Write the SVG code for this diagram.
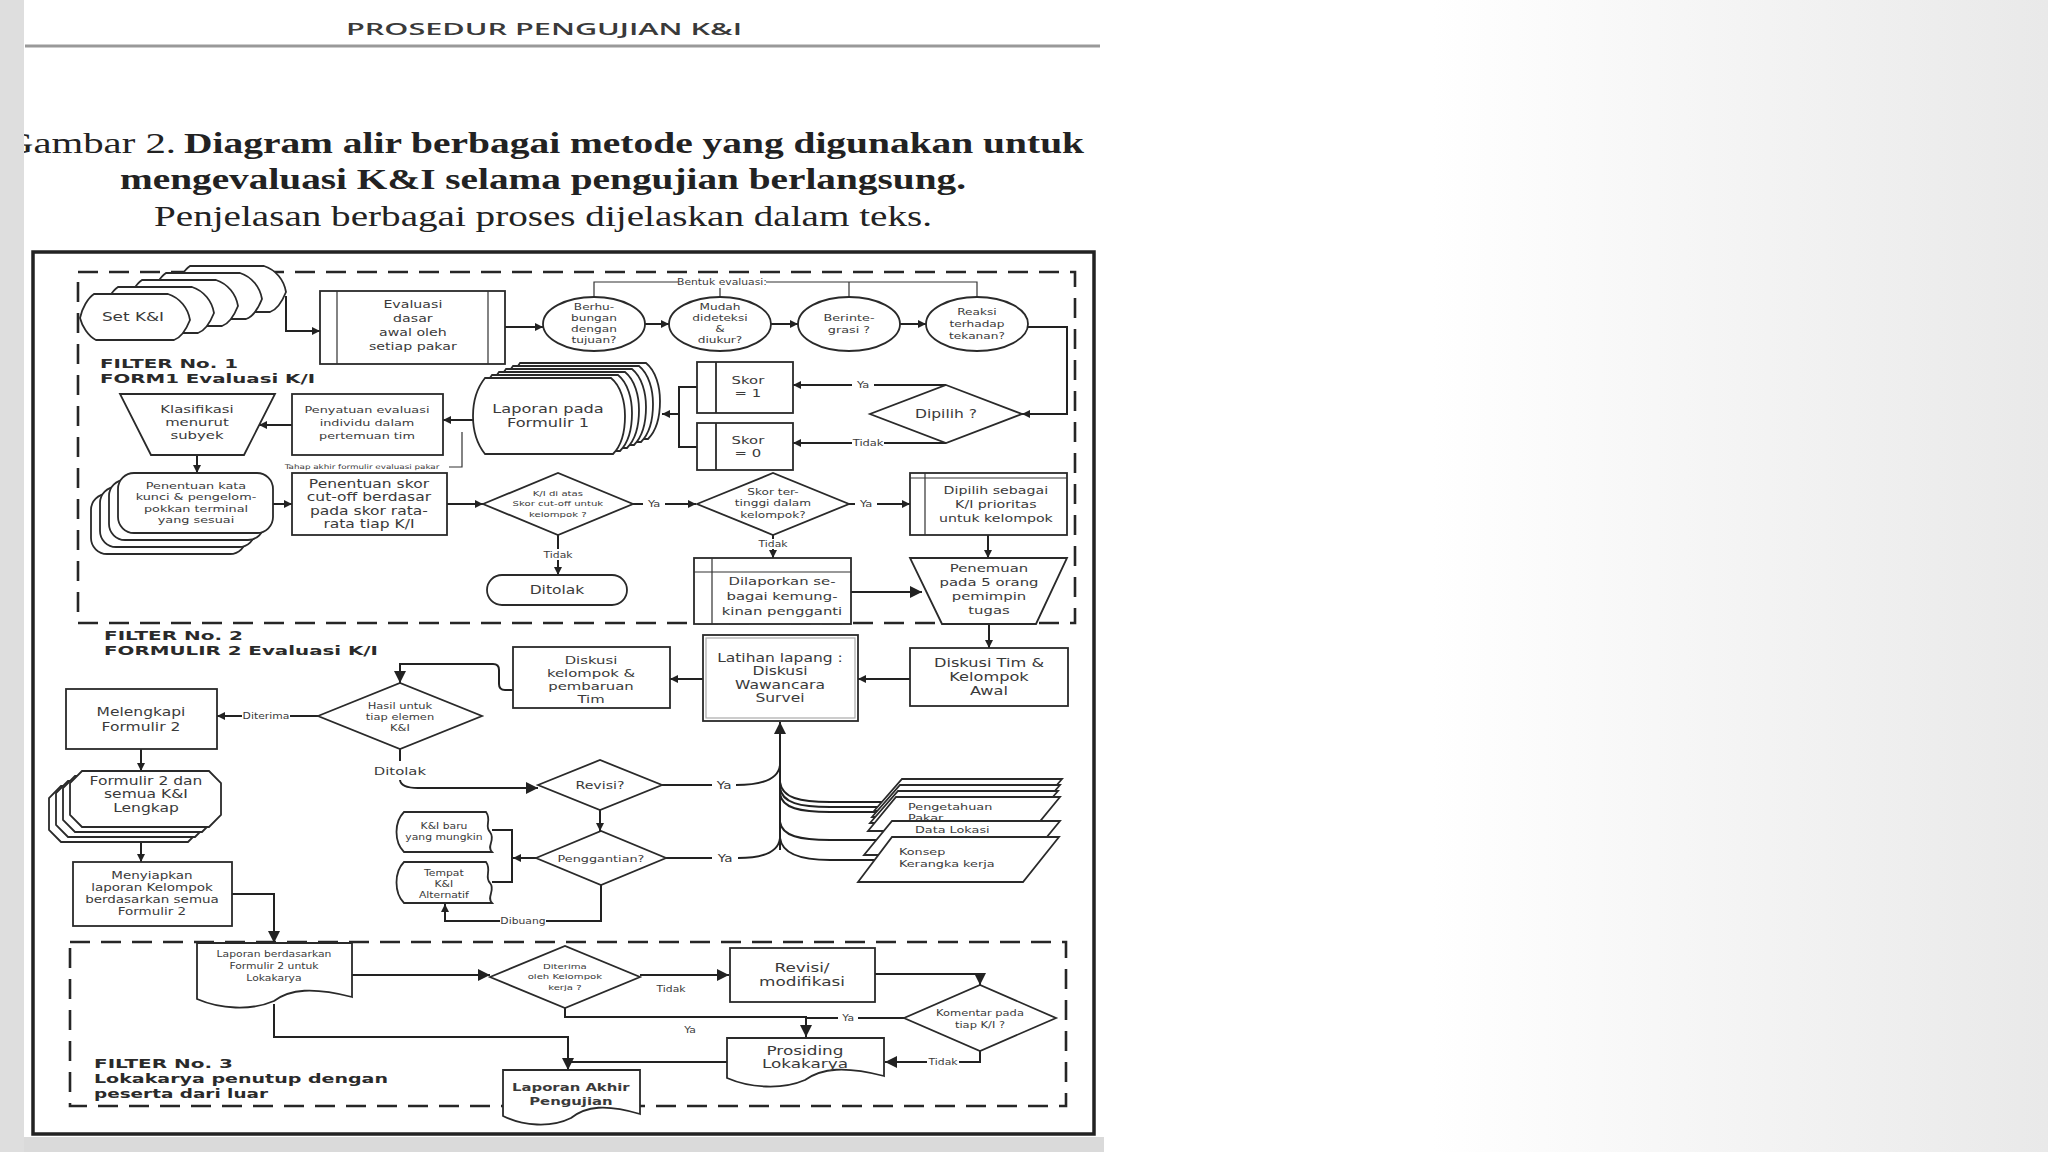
<svg xmlns="http://www.w3.org/2000/svg" width="2048" height="1152" viewBox="0 0 2048 1152">
<defs>
<linearGradient id="bgR" x1="0" y1="0" x2="1" y2="0">
<stop offset="0" stop-color="#ffffff"/><stop offset="0.35" stop-color="#ffffff"/><stop offset="1" stop-color="#e9e9e9"/>
</linearGradient>
<marker id="a" viewBox="0 0 10 10" refX="10" refY="5" markerWidth="9" markerHeight="8" markerUnits="userSpaceOnUse" orient="auto"><path d="M0,0L10,5L0,10z" fill="#222"/></marker>
<marker id="aL" viewBox="0 0 10 10" refX="10" refY="5" markerWidth="15" markerHeight="12" markerUnits="userSpaceOnUse" orient="auto"><path d="M0,0L10,5L0,10z" fill="#222"/></marker>
<path id="setShape" d="M14,0 H88 C100,4 108,14 110,26 C106,36 100,44 94,46 H16 C8,42 2,32 0,24 C2,14 8,4 14,0 Z"/>
<path id="lapShape" d="M12,0 H138 C148,8 152,24 152,38 C152,54 148,68 140,76 H12 C4,66 0,52 0,38 C0,24 4,10 12,0 Z"/>
<rect id="kataShape" width="155" height="60" rx="16"/>
<path id="chamf" d="M12,0 H139 L151,12 V44 L139,56 H12 L0,44 V12 Z"/>
</defs>
<style>
.nd{fill:#fff;stroke:#2a2a2a;stroke-width:1.8}
.ln{fill:none;stroke:#222;stroke-width:2}
.th{fill:none;stroke:#333;stroke-width:1.2}
.dash{fill:none;stroke:#262626;stroke-width:2.6;stroke-dasharray:20 11}
.tx{font-family:"DejaVu Sans","Liberation Sans",sans-serif;fill:#3a3a3a;text-anchor:middle;transform-box:fill-box;transform-origin:center;transform:scaleX(1.35)}
.tl{font-family:"DejaVu Sans","Liberation Sans",sans-serif;fill:#3a3a3a;text-anchor:start;transform-box:fill-box;transform-origin:left center;transform:scaleX(1.35)}
.fl{font-family:"DejaVu Sans","Liberation Sans",sans-serif;font-weight:bold;fill:#2a2a2a;font-size:13px}
.lb{fill:#fff}
.ttl{font-family:"Liberation Serif","Times New Roman",serif;fill:#222;font-size:29px}
</style>

<rect width="2048" height="1152" fill="#fff"/>
<rect x="1100" y="0" width="948" height="1152" fill="url(#bgR)"/>

<g id="header">
<text x="346" y="35" font-family="Open Sans, Liberation Sans, sans-serif" font-weight="600" font-size="17" fill="#3a3a3a" textLength="396" lengthAdjust="spacingAndGlyphs">PROSEDUR PENGUJIAN K&amp;I</text>
<line x1="25" y1="46" x2="1100" y2="46" stroke="#999" stroke-width="3"/>
<text class="ttl" x="4" y="153" textLength="172" lengthAdjust="spacingAndGlyphs">Gambar 2.</text>
<text class="ttl" x="184" y="153" font-weight="bold" textLength="900" lengthAdjust="spacingAndGlyphs">Diagram alir berbagai metode yang digunakan untuk</text>
<text class="ttl" x="120" y="189" font-weight="bold" textLength="846" lengthAdjust="spacingAndGlyphs">mengevaluasi K&amp;I selama pengujian berlangsung.</text>
<text class="ttl" x="154" y="226" textLength="778" lengthAdjust="spacingAndGlyphs">Penjelasan berbagai proses dijelaskan dalam teks.</text>
</g>

<rect x="33" y="252" width="1061" height="882" fill="#fff" stroke="#222" stroke-width="3.5"/>
<rect x="78" y="272" width="997" height="351" class="dash"/>
<rect x="70" y="942" width="996" height="164" class="dash"/>

<g id="filter-labels">
<text class="fl" x="100" y="368" textLength="138" lengthAdjust="spacingAndGlyphs">FILTER No. 1</text>
<text class="fl" x="100" y="383" textLength="215" lengthAdjust="spacingAndGlyphs">FORM1 Evaluasi K/I</text>
<text class="fl" x="104" y="640" textLength="139" lengthAdjust="spacingAndGlyphs">FILTER No. 2</text>
<text class="fl" x="104" y="655" textLength="274" lengthAdjust="spacingAndGlyphs">FORMULIR 2 Evaluasi K/I</text>
<text class="fl" x="94" y="1068" textLength="139" lengthAdjust="spacingAndGlyphs">FILTER No. 3</text>
<text class="fl" x="94" y="1083" textLength="294" lengthAdjust="spacingAndGlyphs">Lokakarya penutup dengan</text>
<text class="fl" x="94" y="1098" textLength="174" lengthAdjust="spacingAndGlyphs">peserta dari luar</text>
</g>

<g id="connectors">
<path class="ln" d="M286,296 V331 H320" marker-end="url(#a)"/>
<path class="ln" d="M505,327 H543" marker-end="url(#a)"/>
<path class="ln" d="M645,324 H669" marker-end="url(#a)"/>
<path class="ln" d="M771,324 H798" marker-end="url(#a)"/>
<path class="ln" d="M900,324 H926" marker-end="url(#a)"/>
<path class="ln" d="M1028,327 H1067 V414 H1022" marker-end="url(#a)"/>
<path class="th" d="M594,297 V282 H977 V297 M720,282 V297 M849,282 V297"/>
<rect class="lb" x="678" y="276" width="88" height="12"/>
<text class="tx" font-size="8" x="722" y="285">Bentuk evaluasi:</text>
<path class="ln" d="M946,385 H793" marker-end="url(#a)"/>
<rect class="lb" x="852" y="379" width="22" height="12"/>
<text class="tx" font-size="8.5" x="863" y="388">Ya</text>
<path class="ln" d="M946,443 H793" marker-end="url(#a)"/>
<rect class="lb" x="852" y="437" width="32" height="12"/>
<text class="tx" font-size="8.5" x="868" y="446">Tidak</text>
<path class="ln" d="M697,387 H679 V447 H697"/>
<path class="ln" d="M679,414 H662" marker-end="url(#a)"/>
<path class="ln" d="M473,420 H443" marker-end="url(#a)"/>
<path class="ln" d="M292,425 H259" marker-end="url(#a)"/>
<path class="th" d="M449,467 H462 V432"/>
<text class="tx" font-size="6.5" x="362" y="469">Tahap akhir formulir evaluasi pakar</text>
<path class="ln" d="M197,455 V473" marker-end="url(#a)"/>
<path class="ln" d="M273,504 H292" marker-end="url(#a)"/>
<path class="ln" d="M447,504 H483" marker-end="url(#a)"/>
<path class="ln" d="M633,504 H696" marker-end="url(#a)"/>
<rect class="lb" x="643" y="498" width="22" height="12"/>
<text class="tx" font-size="8.5" x="654" y="507">Ya</text>
<path class="ln" d="M849,504 H910" marker-end="url(#a)"/>
<rect class="lb" x="855" y="498" width="22" height="12"/>
<text class="tx" font-size="8.5" x="866" y="507">Ya</text>
<path class="ln" d="M558,535 V575" marker-end="url(#a)"/>
<rect class="lb" x="542" y="549" width="32" height="11"/>
<text class="tx" font-size="8" x="558" y="558">Tidak</text>
<path class="ln" d="M773,535 V558" marker-end="url(#a)"/>
<rect class="lb" x="757" y="539" width="32" height="10"/>
<text class="tx" font-size="8" x="773" y="547">Tidak</text>
<path class="ln" d="M988,535 V558" marker-end="url(#a)"/>
<path class="ln" d="M851,592 H922" marker-end="url(#aL)"/>
<path class="ln" d="M989,624 V648" marker-end="url(#a)"/>
<path class="ln" d="M910,679 H858" marker-end="url(#a)"/>
<path class="ln" d="M703,679 H670" marker-end="url(#a)"/>
<path class="ln" d="M513,690 H505 Q499,690 499,684 V670 Q499,664 493,664 H400 V683" marker-end="url(#aL)"/>
<path class="ln" d="M318,716 H217" marker-end="url(#a)"/>
<rect class="lb" x="242" y="710" width="48" height="12"/>
<text class="tx" font-size="8" x="266" y="719">Diterima</text>
<path class="ln" d="M141,749 V771" marker-end="url(#a)"/>
<path class="ln" d="M141,842 V862" marker-end="url(#a)"/>
<path class="ln" d="M232,894 H274 V943" marker-end="url(#aL)"/>
<path class="ln" d="M400,749 V761"/>
<text class="tx" font-size="11" x="400" y="775">Ditolak</text>
<path class="ln" d="M400,780 Q401,788 418,788 H538" marker-end="url(#aL)"/>
<path class="ln" d="M662,785 H712"/>
<text class="tx" font-size="10" x="724" y="789">Ya</text>
<path class="ln" d="M736,785 Q778,785 780,765"/>
<path class="ln" d="M780,850 V722" marker-end="url(#aL)"/>
<path class="ln" d="M600,810 V831" marker-end="url(#a)"/>
<path class="ln" d="M666,858 H712"/>
<text class="tx" font-size="10" x="725" y="862">Ya</text>
<path class="ln" d="M738,858 Q778,858 780,838"/>
<path class="ln" d="M536,858 H513" marker-end="url(#a)"/>
<path class="ln" d="M492,830 H512 V882 H492"/>
<path class="ln" d="M601,885 V921 H445 V904" marker-end="url(#a)"/>
<rect class="lb" x="500" y="915" width="46" height="12"/>
<text class="tx" font-size="8" x="523" y="924">Dibuang</text>
<path class="ln" d="M780,782 C782,798 800,802 830,802 H900"/>
<path class="ln" d="M780,788 C782,803 800,807 830,807 H900"/>
<path class="ln" d="M780,794 C782,808 800,812 830,812 H900"/>
<path class="ln" d="M780,822 C782,836 800,840 830,840 H900"/>
<path class="ln" d="M780,838 C782,854 800,860 830,860 H900"/>
<path class="ln" d="M352,975 H490" marker-end="url(#aL)"/>
<path class="ln" d="M274,1004 V1037 H568 V1070" marker-end="url(#aL)"/>
<path class="ln" d="M727,1062 H568"/>
<path class="ln" d="M640,975 H729" marker-end="url(#aL)"/>
<text class="tx" font-size="8" x="671" y="992">Tidak</text>
<path class="ln" d="M565,1008 V1017 H806 V1037" marker-end="url(#aL)"/>
<text class="tx" font-size="8" x="690" y="1033">Ya</text>
<path class="ln" d="M875,974 H980 V985" marker-end="url(#aL)"/>
<path class="ln" d="M904,1018 H806"/>
<rect class="lb" x="838" y="1012" width="20" height="12"/>
<text class="tx" font-size="8" x="848" y="1021">Ya</text>
<path class="ln" d="M980,1051 V1062 H885" marker-end="url(#aL)"/>
<rect class="lb" x="927" y="1056" width="32" height="12"/>
<text class="tx" font-size="8" x="943" y="1065">Tidak</text>
</g>

<g id="n-setki">
<use href="#setShape" x="176" y="266" class="nd"/>
<use href="#setShape" x="152" y="273" class="nd"/>
<use href="#setShape" x="128" y="280" class="nd"/>
<use href="#setShape" x="104" y="287" class="nd"/>
<use href="#setShape" x="80" y="294" class="nd"/>
<text class="tx" font-size="12.5" x="133" y="321">Set K&amp;I</text>
</g>

<g id="n-evaluasi">
<rect class="nd" x="320" y="291" width="185" height="73"/>
<path class="th" d="M337,291 V364 M488,291 V364" stroke-width="1.8"/>
<text class="tx" font-size="10.5" x="413" y="308"><tspan x="413">Evaluasi</tspan><tspan x="413" dy="14">dasar</tspan><tspan x="413" dy="14">awal oleh</tspan><tspan x="413" dy="14">setiap pakar</tspan></text>
</g>

<g id="n-e1">
<ellipse class="nd" cx="594" cy="324" rx="51" ry="27"/>
<text class="tx" font-size="9" x="594" y="310"><tspan x="594">Berhu-</tspan><tspan x="594" dy="11">bungan</tspan><tspan x="594" dy="11">dengan</tspan><tspan x="594" dy="11">tujuan?</tspan></text>
</g>
<g id="n-e2">
<ellipse class="nd" cx="720" cy="324" rx="51" ry="27"/>
<text class="tx" font-size="9" x="720" y="310"><tspan x="720">Mudah</tspan><tspan x="720" dy="11">dideteksi</tspan><tspan x="720" dy="11">&amp;</tspan><tspan x="720" dy="11">diukur?</tspan></text>
</g>
<g id="n-e3">
<ellipse class="nd" cx="849" cy="324" rx="51" ry="27"/>
<text class="tx" font-size="9.5" x="849" y="321"><tspan x="849">Berinte-</tspan><tspan x="849" dy="12">grasi ?</tspan></text>
</g>
<g id="n-e4">
<ellipse class="nd" cx="977" cy="324" rx="51" ry="27"/>
<text class="tx" font-size="9" x="977" y="315"><tspan x="977">Reaksi</tspan><tspan x="977" dy="12">terhadap</tspan><tspan x="977" dy="12">tekanan?</tspan></text>
</g>

<g id="n-dipilih">
<path class="nd" d="M946,385 L1022,414 L946,443 L870,414 Z"/>
<text class="tx" font-size="11.5" x="946" y="418">Dipilih ?</text>
</g>

<g id="n-skor1">
<rect class="nd" x="697" y="362" width="96" height="51"/>
<line x1="716" y1="362" x2="716" y2="413" stroke="#2a2a2a" stroke-width="1.8"/>
<text class="tx" font-size="11" x="748" y="384"><tspan x="748">Skor</tspan><tspan x="748" dy="13">= 1</tspan></text>
</g>
<g id="n-skor0">
<rect class="nd" x="697" y="423" width="96" height="47"/>
<line x1="716" y1="423" x2="716" y2="470" stroke="#2a2a2a" stroke-width="1.8"/>
<text class="tx" font-size="11" x="748" y="444"><tspan x="748">Skor</tspan><tspan x="748" dy="13">= 0</tspan></text>
</g>

<g id="n-laporan1">
<use href="#lapShape" x="508" y="363" class="nd"/>
<use href="#lapShape" x="501" y="366" class="nd"/>
<use href="#lapShape" x="494" y="369" class="nd"/>
<use href="#lapShape" x="487" y="372" class="nd"/>
<use href="#lapShape" x="480" y="375" class="nd"/>
<use href="#lapShape" x="473" y="378" class="nd"/>
<text class="tx" font-size="12" x="548" y="413"><tspan x="548">Laporan pada</tspan><tspan x="548" dy="14">Formulir 1</tspan></text>
</g>

<g id="n-penyatuan">
<rect class="nd" x="292" y="394" width="151" height="61"/>
<text class="tx" font-size="9.5" x="367" y="413"><tspan x="367">Penyatuan evaluasi</tspan><tspan x="367" dy="13">individu dalam</tspan><tspan x="367" dy="13">pertemuan tim</tspan></text>
</g>

<g id="n-klasifikasi">
<path class="nd" d="M120,394 H275 L244,455 H151 Z"/>
<text class="tx" font-size="11" x="197" y="413"><tspan x="197">Klasifikasi</tspan><tspan x="197" dy="13">menurut</tspan><tspan x="197" dy="13">subyek</tspan></text>
</g>

<g id="n-katakunci">
<use href="#kataShape" x="91" y="494" class="nd"/>
<use href="#kataShape" x="100" y="487" class="nd"/>
<use href="#kataShape" x="109" y="480" class="nd"/>
<use href="#kataShape" x="118" y="473" class="nd"/>
<text class="tx" font-size="9.5" x="196" y="489"><tspan x="196">Penentuan kata</tspan><tspan x="196" dy="11.5">kunci &amp; pengelom-</tspan><tspan x="196" dy="11.5">pokkan terminal</tspan><tspan x="196" dy="11.5">yang sesuai</tspan></text>
</g>

<g id="n-cutoff">
<rect class="nd" x="292" y="473" width="155" height="62"/>
<text class="tx" font-size="11.5" x="369" y="488"><tspan x="369">Penentuan skor</tspan><tspan x="369" dy="13.5">cut-off berdasar</tspan><tspan x="369" dy="13.5">pada skor rata-</tspan><tspan x="369" dy="13.5">rata tiap K/I</tspan></text>
</g>

<g id="n-diatas">
<path class="nd" d="M483,504 L558,473 L633,504 L558,535 Z"/>
<text class="tx" font-size="7.5" x="558" y="496"><tspan x="558">K/I di atas</tspan><tspan x="558" dy="10.5">Skor cut-off untuk</tspan><tspan x="558" dy="10.5">kelompok ?</tspan></text>
</g>

<g id="n-tertinggi">
<path class="nd" d="M697,504 L773,473 L849,504 L773,535 Z"/>
<text class="tx" font-size="9" x="773" y="495"><tspan x="773">Skor ter-</tspan><tspan x="773" dy="11.5">tinggi dalam</tspan><tspan x="773" dy="11.5">kelompok?</tspan></text>
</g>

<g id="n-prioritas">
<rect class="nd" x="910" y="473" width="157" height="62"/>
<path class="th" d="M925,473 V535 M910,478 H1067" stroke-width="1.6"/>
<text class="tx" font-size="10.5" x="996" y="494"><tspan x="996">Dipilih sebagai</tspan><tspan x="996" dy="14">K/I prioritas</tspan><tspan x="996" dy="14">untuk kelompok</tspan></text>
</g>

<g id="n-ditolak1">
<rect class="nd" x="487" y="575" width="140" height="30" rx="15"/>
<text class="tx" font-size="11.5" x="557" y="594">Ditolak</text>
</g>

<g id="n-dilaporkan">
<rect class="nd" x="694" y="558" width="157" height="66"/>
<path class="th" d="M712,558 V624 M694,572 H851" stroke-width="1.6"/>
<text class="tx" font-size="11" x="782" y="585"><tspan x="782">Dilaporkan se-</tspan><tspan x="782" dy="15">bagai kemung-</tspan><tspan x="782" dy="15">kinan pengganti</tspan></text>
</g>

<g id="n-penemuan">
<path class="nd" d="M910,558 H1067 L1036,624 H942 Z"/>
<text class="tx" font-size="11" x="989" y="572"><tspan x="989">Penemuan</tspan><tspan x="989" dy="14">pada 5 orang</tspan><tspan x="989" dy="14">pemimpin</tspan><tspan x="989" dy="14">tugas</tspan></text>
</g>

<g id="n-diskusitim">
<rect class="nd" x="910" y="648" width="158" height="58"/>
<text class="tx" font-size="12" x="989" y="667"><tspan x="989">Diskusi Tim &amp;</tspan><tspan x="989" dy="14">Kelompok</tspan><tspan x="989" dy="14">Awal</tspan></text>
</g>

<g id="n-latihan">
<rect class="nd" x="703" y="635" width="155" height="86" stroke-width="2.6"/>
<rect x="706" y="638" width="149" height="80" fill="none" stroke="#aaa" stroke-width="1.2"/>
<text class="tx" font-size="11.5" x="780" y="662"><tspan x="780">Latihan lapang :</tspan><tspan x="780" dy="13.5">Diskusi</tspan><tspan x="780" dy="13.5">Wawancara</tspan><tspan x="780" dy="13.5">Survei</tspan></text>
</g>

<g id="n-diskusikel">
<rect class="nd" x="513" y="647" width="157" height="61"/>
<text class="tx" font-size="11" x="591" y="664"><tspan x="591">Diskusi</tspan><tspan x="591" dy="13">kelompok &amp;</tspan><tspan x="591" dy="13">pembaruan</tspan><tspan x="591" dy="13">Tim</tspan></text>
</g>

<g id="n-hasil">
<path class="nd" d="M318,716 L400,683 L482,716 L400,749 Z"/>
<text class="tx" font-size="8.5" x="400" y="709"><tspan x="400">Hasil untuk</tspan><tspan x="400" dy="11">tiap elemen</tspan><tspan x="400" dy="11">K&amp;I</tspan></text>
</g>

<g id="n-melengkapi">
<rect class="nd" x="66" y="689" width="151" height="60"/>
<text class="tx" font-size="11.5" x="141" y="716"><tspan x="141">Melengkapi</tspan><tspan x="141" dy="15">Formulir 2</tspan></text>
</g>

<g id="n-formulir2">
<use href="#chamf" x="49" y="786" class="nd"/>
<use href="#chamf" x="56" y="781" class="nd"/>
<use href="#chamf" x="63" y="776" class="nd"/>
<use href="#chamf" x="70" y="771" class="nd"/>
<text class="tx" font-size="11.5" x="146" y="785"><tspan x="146">Formulir 2 dan</tspan><tspan x="146" dy="13.5">semua K&amp;I</tspan><tspan x="146" dy="13.5">Lengkap</tspan></text>
</g>

<g id="n-menyiapkan">
<rect class="nd" x="73" y="862" width="159" height="64"/>
<text class="tx" font-size="10" x="152" y="879"><tspan x="152">Menyiapkan</tspan><tspan x="152" dy="12">laporan Kelompok</tspan><tspan x="152" dy="12">berdasarkan semua</tspan><tspan x="152" dy="12">Formulir 2</tspan></text>
</g>

<g id="n-revisi">
<path class="nd" d="M538,785 L600,760 L662,785 L600,810 Z"/>
<text class="tx" font-size="10.5" x="600" y="789">Revisi?</text>
</g>

<g id="n-penggantian">
<path class="nd" d="M536,858 L601,831 L666,858 L601,885 Z"/>
<text class="tx" font-size="9.5" x="601" y="862">Penggantian?</text>
</g>

<g id="n-kibaru">
<path class="nd" d="M404,812 H486 C492,820 484,826 490,832 C496,840 486,846 492,852 H404 C394,842 394,822 404,812 Z"/>
<text class="tx" font-size="8" x="444" y="829"><tspan x="444">K&amp;I baru</tspan><tspan x="444" dy="11">yang mungkin</tspan></text>
</g>
<g id="n-tempat">
<path class="nd" d="M404,862 H486 C492,870 484,877 490,883 C496,890 486,897 492,903 H404 C394,893 394,872 404,862 Z"/>
<text class="tx" font-size="8" x="444" y="876"><tspan x="444">Tempat</tspan><tspan x="444" dy="11">K&amp;I</tspan><tspan x="444" dy="11">Alternatif</tspan></text>
</g>

<g id="n-sumber">
<path class="nd" d="M902,779 H1062 L1034,811 H874 Z"/>
<path class="nd" d="M900,785 H1060 L1032,817 H872 Z"/>
<path class="nd" d="M898,791 H1058 L1030,823 H870 Z"/>
<path class="nd" d="M896,797 H1060 L1032,831 H868 Z"/>
<text class="tl" font-size="9.5" x="908" y="810"><tspan x="908">Pengetahuan</tspan><tspan x="908" dy="11">Pakar</tspan></text>
<path class="nd" d="M892,821 H1060 L1032,855 H864 Z"/>
<text class="tl" font-size="9.5" x="915" y="833">Data Lokasi</text>
<path class="nd" d="M892,837 H1059 L1023,882 H858 Z"/>
<text class="tl" font-size="9.5" x="899" y="855"><tspan x="899">Konsep</tspan><tspan x="899" dy="12">Kerangka kerja</tspan></text>
</g>

<g id="n-laporanlok">
<path class="nd" d="M197,943 H352 V997 C313,987 290,989 274,1001 C251,1011 220,1009 197,999 Z"/>
<text class="tx" font-size="8" x="274" y="957"><tspan x="274">Laporan berdasarkan</tspan><tspan x="274" dy="12">Formulir 2 untuk</tspan><tspan x="274" dy="12">Lokakarya</tspan></text>
</g>

<g id="n-diterima">
<path class="nd" d="M490,977 L565,946 L640,977 L565,1008 Z"/>
<text class="tx" font-size="7.5" x="565" y="969"><tspan x="565">Diterima</tspan><tspan x="565" dy="10.5">oleh Kelompok</tspan><tspan x="565" dy="10.5">kerja ?</tspan></text>
</g>

<g id="n-modifikasi">
<rect class="nd" x="730" y="948" width="145" height="54"/>
<text class="tx" font-size="12.5" x="802" y="972"><tspan x="802">Revisi/</tspan><tspan x="802" dy="14">modifikasi</tspan></text>
</g>

<g id="n-komentar">
<path class="nd" d="M904,1018 L980,985 L1056,1018 L980,1051 Z"/>
<text class="tx" font-size="8.5" x="980" y="1016"><tspan x="980">Komentar pada</tspan><tspan x="980" dy="12">tiap K/I ?</tspan></text>
</g>

<g id="n-prosiding">
<path class="nd" d="M727,1038 H884 V1076 C845,1066 822,1068 805,1080 C782,1090 750,1088 727,1078 Z"/>
<text class="tx" font-size="12.5" x="805" y="1055"><tspan x="805">Prosiding</tspan><tspan x="805" dy="13">Lokakarya</tspan></text>
</g>

<g id="n-akhir">
<path class="nd" d="M503,1070 H640 V1114 C606,1104 586,1106 571,1118 C551,1128 523,1126 503,1116 Z"/>
<text class="tx" font-size="11" font-weight="bold" x="571" y="1091"><tspan x="571">Laporan Akhir</tspan><tspan x="571" dy="14">Pengujian</tspan></text>
</g>

<rect x="0" y="0" width="24" height="1152" fill="#dedede"/>
<rect x="24" y="1137" width="1080" height="15" fill="#dadada"/>
</svg>
